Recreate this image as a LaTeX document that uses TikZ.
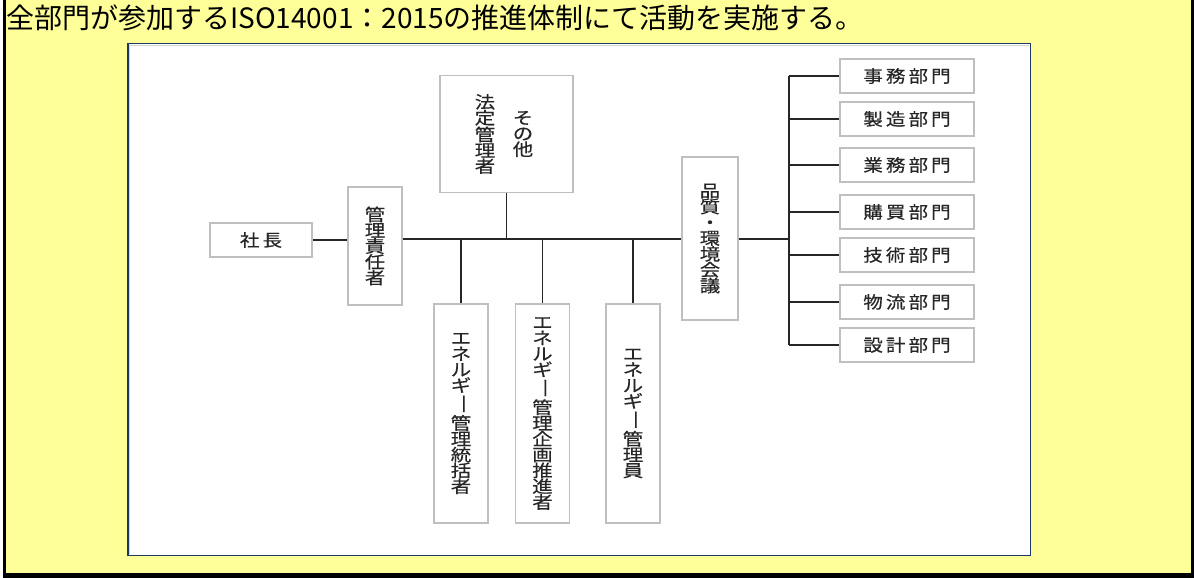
\documentclass[tikz,border=0pt]{standalone}
\usepackage{fontspec}
\usepackage{graphicx}
\newfontfamily\jp{Noto Sans CJK JP}
\newfontfamily\jpv[FakeStretch=1.2,FakeBold=0.4]{Noto Sans CJK JP}
\newfontfamily\jpls[FakeStretch=1.15,LetterSpace=18,FakeBold=0.4]{Noto Sans CJK JP}
\definecolor{bgyellow}{HTML}{FFFF99}
\definecolor{navy}{HTML}{203864}
\definecolor{boxgray}{HTML}{BFBFBF}
\definecolor{conncol}{HTML}{262626}
\newcommand\vbar{\rotatebox[origin=c]{-90}{ー}}
\tikzset{
  box/.style={draw=boxgray, line width=1.5pt, fill=white, inner sep=0pt},
  htext/.style={font=\jpls\fontsize{17}{17}\selectfont, text=black!85},
  vtext/.style={font=\jpv\fontsize{17}{15.8}\selectfont, align=center, inner sep=0pt, text=black!85},
  vbox/.style={box, vtext, minimum width=54pt},
  dept/.style={box, htext, minimum width=134pt, minimum height=34pt},
  conn/.style={draw=conncol, line width=1.8pt}
}
\begin{document}
\begin{tikzpicture}[x=1pt,y=-1pt]
\useasboundingbox (0,0) rectangle (1194,578);
\fill[white] (0,0) rectangle (1194,578);
\fill[black] (3,0) rectangle (1194,578);
\fill[bgyellow] (6,0) rectangle (1191,573);
\node[anchor=base west, inner sep=0pt, font=\jp\fontsize{28}{28}\selectfont] (title) at (6,29) {全部門が参加するISO14001：2015の推進体制にて活動を実施する。};
% inner panel
\draw[navy, line width=1.5pt, fill=white] (127.75,43.75) rectangle (1030.25,555.25);
\draw[boxgray!70, line width=0.8pt] (129.4,45.4) -- (129.4,553.6);
\draw[boxgray!70, line width=0.8pt] (129.4,45.4) -- (1028.6,45.4);
% nodes
\node[box, htext, minimum width=102pt, minimum height=34pt] (shacho) at (261,240) {社長};
\node[vbox, minimum height=118pt] (kanri) at (375,246) {管\\理\\責\\任\\者};
\node[box, minimum width=133pt, minimum height=117pt] (houtei) at (506.5,134) {};
\node[vtext] (sonota) at (523,134) {そ\\の\\他};
\node[vtext] (houteikanri) at (485,134) {法\\定\\管\\理\\者};
\node[vbox, minimum height=219pt] (tokatsu) at (461,413.5) {エ\\ネ\\ル\\ギ\\\vbar\\管\\理\\統\\括\\者};
\node[vbox, minimum height=219pt] (kikaku) at (542.5,413.5) {エ\\ネ\\ル\\ギ\\\vbar\\管\\理\\企\\画\\推\\進\\者};
\node[vbox, minimum height=219pt] (kanriin) at (633,413.5) {エ\\ネ\\ル\\ギ\\\vbar\\管\\理\\員};
\node[vbox, minimum width=56pt, minimum height=163pt] (hinshitsu) at (710,238.5) {品\\質\\・\\環\\境\\会\\議};
\node[dept] (d1) at (907,76) {事務部門};
\node[dept] (d2) at (907,119) {製造部門};
\node[dept] (d3) at (907,165) {業務部門};
\node[dept] (d4) at (907,212) {購買部門};
\node[dept] (d5) at (907,255) {技術部門};
\node[dept] (d6) at (907,302) {物流部門};
\node[dept] (d7) at (907,345) {設計部門};
% connectors
\coordinate (busy) at (600,239);
\coordinate (trunk) at (789,239);
\draw[conn] (shacho.east) -- (shacho.east -| kanri.west);
\draw[conn] (kanri.east |- busy) -- (hinshitsu.west |- busy);
\draw[conn] (houtei.south) -- (houtei.south |- busy);
\draw[conn] (tokatsu.north) -- (tokatsu.north |- busy);
\draw[conn] (kikaku.north) -- (kikaku.north |- busy);
\draw[conn] (kanriin.north) -- (kanriin.north |- busy);
\draw[conn] (hinshitsu.east |- busy) -- (trunk);
\draw[conn] (trunk |- d1.west) -- (trunk |- d7.west);
\foreach \d in {d1,d2,d3,d4,d5,d6,d7}{
  \draw[conn] (trunk |- \d.west) -- (\d.west);
}
\end{tikzpicture}
\end{document}
